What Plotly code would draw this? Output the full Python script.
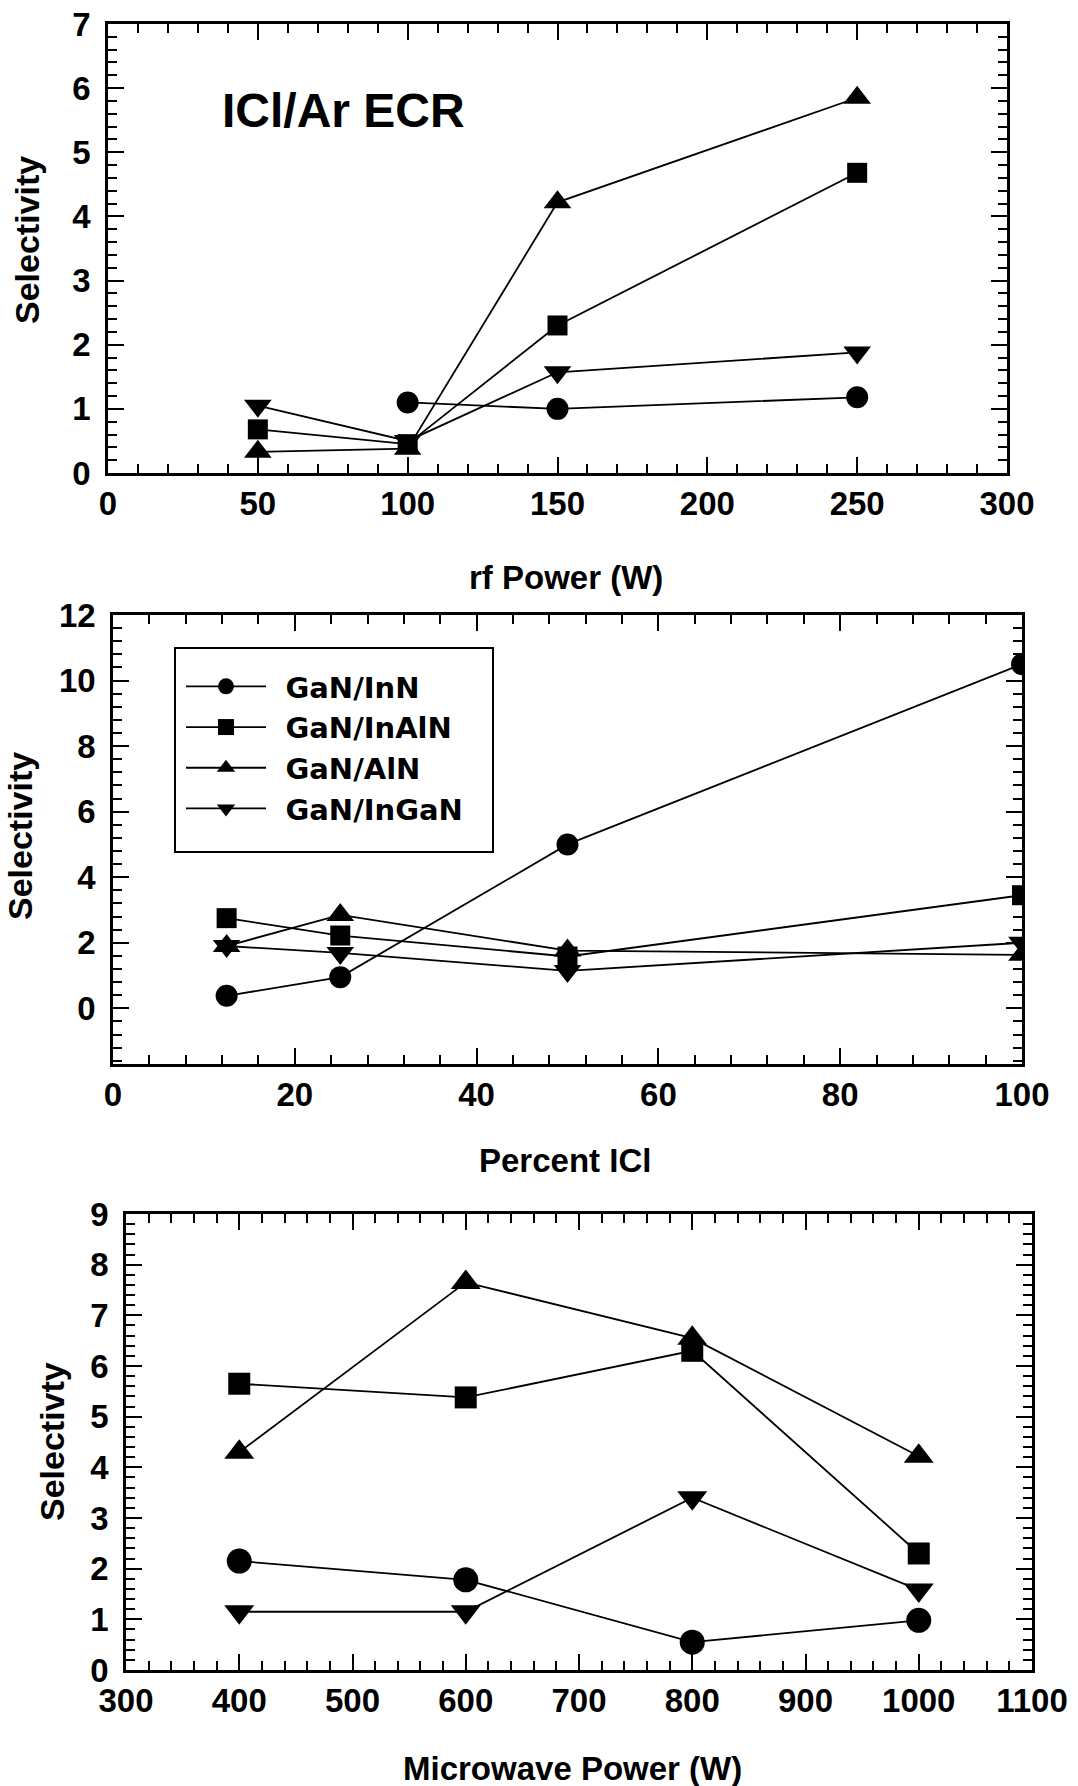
import plotly.graph_objects as go

# ---------------- data ----------------
series_names = ["GaN/InN", "GaN/InAlN", "GaN/AlN", "GaN/InGaN"]
symbols = ["circle", "square", "triangle-up", "triangle-down"]

# Panel 1: rf power
rf_power = [50, 100, 150, 250]
rf_InN = [None, 1.1, 1.0, 1.18]
rf_InAlN = [0.68, 0.45, 2.3, 4.68]
rf_AlN = [0.33, 0.38, 4.22, 5.85]
rf_InGaN = [1.05, 0.5, 1.57, 1.88]

# Panel 2: percent ICl
pct_icl = [12.5, 25, 50, 100]
pct_InN = [0.38, 0.95, 5.0, 10.5]
pct_InAlN = [2.75, 2.22, 1.58, 3.45]
pct_AlN = [1.9, 2.85, 1.76, 1.63]
pct_InGaN = [1.9, 1.69, 1.14, 2.0]

# Panel 3: microwave power
mw_power = [400, 600, 800, 1000]
mw_InN = [2.15, 1.78, 0.55, 0.98]
mw_InAlN = [5.65, 5.38, 6.3, 2.3]
mw_AlN = [4.3, 7.65, 6.55, 4.22]
mw_InGaN = [1.15, 1.15, 3.4, 1.58]

W, H = 1078, 1786
FONT = "Liberation Sans"

fig = go.Figure()

panels = [
    ("x", "y", rf_power, [rf_InN, rf_InAlN, rf_AlN, rf_InGaN], False, [22, 20, 24, 24]),
    ("x2", "y2", pct_icl, [pct_InN, pct_InAlN, pct_AlN, pct_InGaN], True, [22, 20, 24, 24]),
    ("x3", "y3", mw_power, [mw_InN, mw_InAlN, mw_AlN, mw_InGaN], False, [25, 22, 26, 26]),
]

for xa, ya, xs, ys_list, show, sizes in panels:
    for name, sym, ys, sz in zip(series_names, symbols, ys_list, sizes):
        fig.add_trace(go.Scatter(
            x=xs, y=ys, name="\u2002" + name, xaxis=xa, yaxis=ya,
            mode="lines+markers", showlegend=show,
            line=dict(color="black", width=1.8),
            marker=dict(symbol=sym, size=sz, color="black"),
        ))


def px_x(p):
    return p / W


def px_y(p):
    return 1 - p / H


def axis(domain, rng, dtick, minor_dtick, anchor, standoff, tick0=0):
    return dict(
        domain=domain, range=rng, anchor=anchor, automargin=False,
        showline=True, linecolor="black", linewidth=2.5, mirror="ticks",
        ticks="inside", ticklen=16, tickwidth=2, tickcolor="black",
        tick0=tick0, dtick=dtick, ticklabelstandoff=standoff,
        showgrid=False, zeroline=False,
        tickfont=dict(family=FONT, size=33, color="black", weight="bold"),
        minor=dict(ticks="inside", ticklen=9, tickwidth=1.8, tickcolor="black",
                   dtick=minor_dtick, tick0=tick0, showgrid=False),
    )


layout = dict(
    width=W, height=H,
    margin=dict(l=0, r=0, t=0, b=0, pad=0, autoexpand=False),
    paper_bgcolor="white", plot_bgcolor="white",
    font=dict(family=FONT, color="black"),
    xaxis=axis([px_x(108), px_x(1007)], [0, 300], 50, 10, "y", 0),
    yaxis=axis([px_y(473), px_y(24)], [0, 7], 1, 0.2, "x", 8),
    xaxis2=axis([px_x(113), px_x(1022)], [0, 100], 20, 4, "y2", 0),
    yaxis2=axis([px_y(1064), px_y(615)], [-1.7, 12], 2, 0.4, "x2", 8),
    xaxis3=axis([px_x(126), px_x(1032)], [300, 1100], 100, 20, "y3", 0, tick0=300),
    yaxis3=axis([px_y(1670), px_y(1214)], [0, 9], 1, 0.2, "x3", 8),
    legend=dict(
        x=px_x(181), y=px_y(661), xanchor="left", yanchor="top",
        borderwidth=0, bgcolor="rgba(0,0,0,0)",
        font=dict(family="DejaVu Sans", size=29, color="black", weight="bold"),
        itemwidth=80, tracegroupgap=0,
    ),
    showlegend=True,
    shapes=[dict(type="rect", xref="paper", yref="paper",
                 x0=px_x(175), x1=px_x(493), y0=px_y(852), y1=px_y(648),
                 line=dict(color="black", width=2), fillcolor="rgba(0,0,0,0)",
                 layer="above")],
)
fig.update_layout(**layout)

ann = []
def text(t, x, y, size, angle=0):
    ann.append(dict(text=t, x=px_x(x), y=px_y(y), xref="paper", yref="paper",
                    showarrow=False, textangle=angle, xanchor="center", yanchor="middle",
                    font=dict(family=FONT, size=size, color="black", weight="bold")))

text("ICl/Ar ECR", 343, 111, 48)
text("rf Power (W)", 566, 577, 33)
text("Percent ICl", 565, 1160, 33)
text("Microwave Power (W)", 572, 1768, 33)
text("Selectivity", 27, 240, 34, -90)
text("Selectivity", 20, 836, 34, -90)
text("Selectivty", 52, 1442, 34, -90)
fig.update_layout(annotations=ann)

fig.write_html("out.html")
